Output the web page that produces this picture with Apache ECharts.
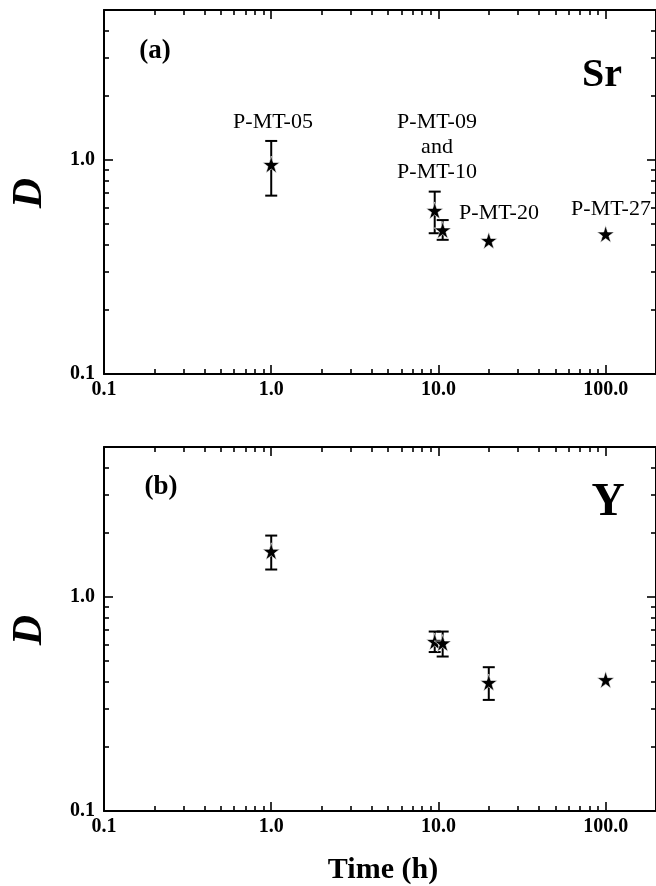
<!DOCTYPE html>
<html><head><meta charset="utf-8">
<script src="https://cdn.jsdelivr.net/npm/echarts@6/dist/echarts.min.js"></script>
<style>html,body{margin:0;padding:0;background:#fff}#c{width:656px;height:886px}</style>
</head><body><div id="c"></div>
<script>
// ---- data ----
const timeH = [1, 9.5, 10.6, 20, 100];
const srD = [0.95, 0.58, 0.47, 0.42, 0.45];
const srLow = [0.68, 0.454, 0.423, null, null];
const srHigh = [1.224, 0.71, 0.523, null, null];
const yD = [1.63, 0.618, 0.608, 0.398, 0.41];
const yLow = [1.34, 0.552, 0.526, 0.33, null];
const yHigh = [1.93, 0.688, 0.688, 0.469, null];
const xTickValues = [0.1, 1, 10, 100];
const xTickLabels = ['0.1', '1.0', '10.0', '100.0'];
const xMinorTicks = [0.2,0.3,0.4,0.5,0.6,0.7,0.8,0.9,2,3,4,5,6,7,8,9,20,30,40,50,60,70,80,90];
const yTickValues = [0.1, 1];
const yTickLabels = ['0.1', '1.0'];
const yMinorTicks = [0.2,0.3,0.4,0.5,0.6,0.7,0.8,0.9,2,3,4];
const panelTags = ['(a)', '(b)'];
const elementNames = ['Sr', 'Y'];
const sampleLabels = ['P-MT-05', 'P-MT-09', 'and', 'P-MT-10', 'P-MT-20', 'P-MT-27'];

const FONT = '"Liberation Serif", "Times New Roman", serif';
const X_MIN = 0.1, X_MAX = 200, Y_MIN = 0.1, Y_MAX = 5;
const grids = [
  { left: 104, right: -2, top: 10, height: 364 },
  { left: 104, right: -2, top: 447, height: 364 }
];

function lbl(values, labels) {
  return function (v) {
    for (let i = 0; i < values.length; i++) if (Math.abs(values[i] - v) < 1e-9 * Math.max(1, v)) return labels[i];
    return '';
  };
}
const lineStyle = { color: '#000', width: 2 };
function xAx(g, pos, major, labels) {
  return {
    type: 'log', logBase: 10, gridIndex: g, position: pos, min: X_MIN, max: X_MAX,
    axisLine: { show: major, lineStyle: lineStyle, onZero: false },
    axisTick: { show: true, inside: true, length: major ? 9 : 5, customValues: major ? xTickValues : xMinorTicks,
      lineStyle: { color: '#000', width: 1.6 } },
    axisLabel: labels ? { show: true, customValues: xTickValues, formatter: lbl(xTickValues, xTickLabels),
      margin: 6, color: '#000', fontFamily: FONT, fontWeight: 'bold', fontSize: 20 } : { show: false },
    splitLine: { show: false }, minorTick: { show: false }, minorSplitLine: { show: false }
  };
}
function yAx(g, pos, major, labels) {
  return {
    type: 'log', logBase: 10, gridIndex: g, position: pos, min: Y_MIN, max: Y_MAX,
    axisLine: { show: major, lineStyle: lineStyle, onZero: false },
    axisTick: { show: true, inside: true, length: major ? 9 : 5, customValues: major ? yTickValues : yMinorTicks,
      lineStyle: { color: '#000', width: 1.6 } },
    axisLabel: labels ? { show: true, customValues: yTickValues, formatter: lbl(yTickValues, yTickLabels),
      margin: 9, color: '#000', fontFamily: FONT, fontWeight: 'bold', fontSize: 20 } : { show: false },
    splitLine: { show: false }, minorTick: { show: false }, minorSplitLine: { show: false }
  };
}
const xAxes = [], yAxes = [];
for (let g = 0; g < 2; g++) {
  xAxes.push(xAx(g, 'bottom', true, true), xAx(g, 'bottom', false, false), xAx(g, 'top', true, false), xAx(g, 'top', false, false));
  yAxes.push(yAx(g, 'left', true, true), yAx(g, 'left', false, false), yAx(g, 'right', true, false), yAx(g, 'right', false, false));
}

const STAR = 'path://M50,0 L61.8,36.2 L100,36.2 L69.1,58.6 L80.9,95.1 L50,72.7 L19.1,95.1 L30.9,58.6 L0,36.2 L38.2,36.2 Z';

function errData(low, high) {
  const out = [];
  timeH.forEach((t, i) => { if (low[i] != null) out.push([t, low[i], high[i]]); });
  return out;
}
function renderErr(params, api) {
  const x = api.value(0);
  const pLo = api.coord([x, api.value(1)]);
  const pHi = api.coord([x, api.value(2)]);
  const w = 6;
  const st = { stroke: '#000', lineWidth: 2 };
  return { type: 'group', children: [
    { type: 'line', shape: { x1: pLo[0], y1: pLo[1], x2: pHi[0], y2: pHi[1] }, style: st },
    { type: 'line', shape: { x1: pLo[0] - w, y1: pLo[1], x2: pLo[0] + w, y2: pLo[1] }, style: st },
    { type: 'line', shape: { x1: pHi[0] - w, y1: pHi[1], x2: pHi[0] + w, y2: pHi[1] }, style: st }
  ] };
}
const series = [];
[[srD, srLow, srHigh], [yD, yLow, yHigh]].forEach((s, g) => {
  series.push({
    type: 'custom', xAxisIndex: g * 4, yAxisIndex: g * 4, renderItem: renderErr,
    data: errData(s[1], s[2]), z: 2, silent: true
  });
  series.push({
    type: 'scatter', xAxisIndex: g * 4, yAxisIndex: g * 4, symbol: STAR, symbolSize: 17,
    itemStyle: { color: '#000', borderColor: '#fff', borderWidth: 0.6, opacity: 1 },
    data: timeH.map((t, i) => [t, s[0][i]]), z: 3, silent: true
  });
});

function txt(text, x, y, font, opts) {
  return Object.assign({ type: 'text', x: x, y: y, silent: true,
    style: { text: text, font: font, fill: '#000', align: 'center', verticalAlign: 'middle' } }, opts || {});
}
const graphic = [
  txt(panelTags[0], 155, 51, 'bold 27px ' + FONT),
  txt(panelTags[1], 161, 487, 'bold 27px ' + FONT),
  txt(elementNames[0], 602, 76, 'bold 40px ' + FONT),
  txt(elementNames[1], 608, 503, 'bold 46px ' + FONT),
  txt('D', 30, 193, 'bold italic 42px ' + FONT, { rotation: Math.PI / 2 }),
  txt('D', 30, 630, 'bold italic 42px ' + FONT, { rotation: Math.PI / 2 }),
  txt('Time (h)', 383, 870, 'bold 30px ' + FONT),
  txt(sampleLabels[0], 273, 122, '22px ' + FONT),
  txt(sampleLabels[1], 437, 122, '22px ' + FONT),
  txt(sampleLabels[2], 437, 147, '22px ' + FONT),
  txt(sampleLabels[3], 437, 172, '22px ' + FONT),
  txt(sampleLabels[4], 499, 213, '22px ' + FONT),
  txt(sampleLabels[5], 611, 209, '22px ' + FONT)
];

const chart = echarts.init(document.getElementById('c'), null, { renderer: 'canvas' });
chart.setOption({
  backgroundColor: '#fff',
  animation: false,
  grid: grids,
  xAxis: xAxes,
  yAxis: yAxes,
  series: series,
  graphic: graphic
});
</script>
</body></html>
